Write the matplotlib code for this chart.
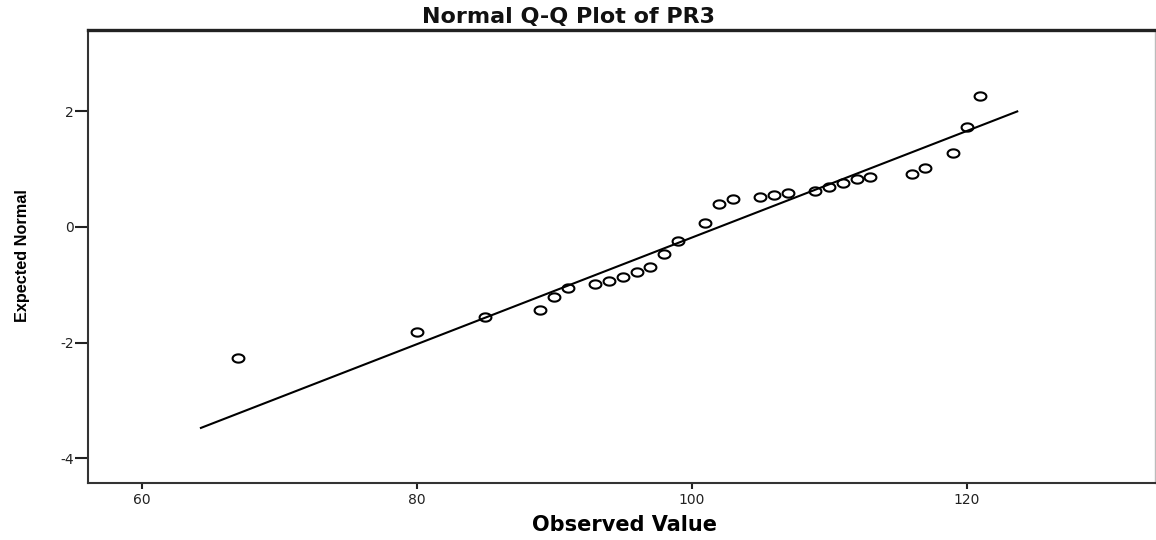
import matplotlib
matplotlib.use("Agg")
import matplotlib.pyplot as plt
from matplotlib.path import Path
from matplotlib import font_manager
import numpy as np

plt.rcParams["axes.unicode_minus"] = False

# Observed values of PR3 and their expected normal scores
observed = [67, 80, 85, 89, 90, 91, 93, 94, 95, 96, 97, 98, 99, 101, 102, 103,
            105, 106, 107, 109, 110, 111, 112, 113, 116, 117, 119, 120, 121]
expected = [-2.27, -1.81, -1.55, -1.43, -1.21, -1.06, -0.99, -0.93, -0.86, -0.78,
            -0.69, -0.47, -0.24, 0.06, 0.40, 0.48, 0.52, 0.55, 0.58, 0.62,
            0.68, 0.75, 0.82, 0.86, 0.91, 1.01, 1.27, 1.73, 2.26]

# Reference line (normal fit) end points
ref_x = [64.24, 123.75]
ref_y = [-3.48, 2.00]

x_ticks = [60, 80, 100, 120]
y_ticks = [-4, -2, 0, 2]

available = {f.name for f in font_manager.fontManager.ttflist}
narrow = "Liberation Sans Narrow" if "Liberation Sans Narrow" in available else "Liberation Sans"

W, H = 1156, 540
fig = plt.figure(figsize=(W / 100, H / 100), dpi=100, facecolor="white")

left, right = 88.3 / W, 1155.3 / W
bottom, top = 1 - 482.7 / H, 1 - 30.0 / H
ax = fig.add_axes([left, bottom, right - left, top - bottom])
ax.set_xlim(56.12, 133.72)
ax.set_ylim(-4.42, 3.40)

# Slightly flattened open-circle marker
t = np.linspace(0, 2 * np.pi, 60)
ellipse = Path(np.column_stack([np.cos(t), 0.70 * np.sin(t)]), closed=True)

ax.plot(ref_x, ref_y, color="black", lw=1.5, solid_capstyle="butt", zorder=2)
ax.plot(observed, expected, linestyle="none", marker=ellipse, markersize=8.5,
        markerfacecolor="none", markeredgecolor="black", markeredgewidth=1.5,
        zorder=3)

ax.set_xticks(x_ticks)
ax.set_yticks(y_ticks)
ax.tick_params(axis="x", direction="out", length=4.3, width=1.5, pad=3,
               labelsize=10, colors="#222222")
ax.tick_params(axis="y", direction="out", length=9.4, width=1.5, pad=1,
               labelsize=10, colors="#222222")
for lab in ax.get_xticklabels() + ax.get_yticklabels():
    lab.set_family("DejaVu Sans")

for side in ["left", "bottom"]:
    ax.spines[side].set_linewidth(1.5)
    ax.spines[side].set_color("#333333")
ax.spines["top"].set_linewidth(2.4)
ax.spines["top"].set_color("#222222")
ax.spines["right"].set_linewidth(1.0)
ax.spines["right"].set_color("#bbbbbb")

fig.text(568 / W, 1 - 23.3 / H, "Normal Q-Q Plot of PR3", ha="center",
         va="baseline", fontsize=16, fontweight="bold", family="DejaVu Sans",
         color="#111111")
fig.text(624 / W, 1 - 530.7 / H, "Observed Value", ha="center",
         va="baseline", fontsize=15, fontweight="bold", family="DejaVu Sans")
fig.text(23 / W, 1 - 255.9 / H, "Expected Normal", ha="center", va="center",
         rotation=90, fontsize=11.7, fontweight="bold", family=narrow)

fig.savefig("out.png", dpi=100, facecolor="white")
